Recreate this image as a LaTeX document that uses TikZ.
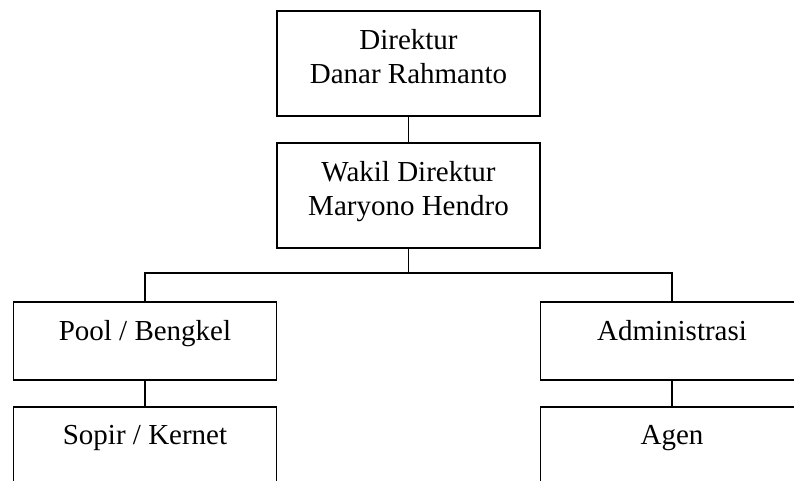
\documentclass[tikz,border=0pt]{standalone}
\usepackage{fontspec}
\setmainfont{Liberation Serif}
\usepackage{tikz}

% text set at the top of a box of given height
\newcommand{\boxtext}[2]{\parbox[c][#1][t]{263pt}{\vspace*{19pt}\centering #2}}

\begin{document}
\begin{tikzpicture}
		[x=1pt,y=1pt,line cap=rect,
		%Styles
		org box/.style={draw,line width=1.5pt,inner sep=0pt,anchor=north,
			font=\fontsize{29}{34}\selectfont},
		link/.style={line width=1.1pt}
		]
		
		\clip (0,0) rectangle (794,-480);
		
		%The chart
		
		\node[org box] (Dir) at (408.5, -10) {\boxtext{105pt}{Direktur\\Danar Rahmanto}};
		\node[org box] (Wak) at (408.5, -142) {\boxtext{105pt}{Wakil Direktur\\Maryono Hendro}};
		
		\node[org box] (Pool) at (145, -301) {\boxtext{78pt}{Pool / Bengkel}};
		\node[org box] (Sop) at (145, -406) {\boxtext{78pt}{Sopir / Kernet}};
		
		\node[org box] (Adm) at (672, -301) {\boxtext{78pt}{Administrasi}};
		\node[org box] (Agen) at (672, -406) {\boxtext{78pt}{Agen}};
		
		\coordinate (Split) at (408.5, -273);
		
		\path[link]
			(Dir)	edge	(Wak)
			(Pool)	edge	(Sop)
			(Adm)	edge	(Agen);
		
		\draw[link] (Wak.south) -- (Split);
		\draw[link] (Pool.north) |- (Split) -| (Adm.north);
	\end{tikzpicture}
\end{document}
